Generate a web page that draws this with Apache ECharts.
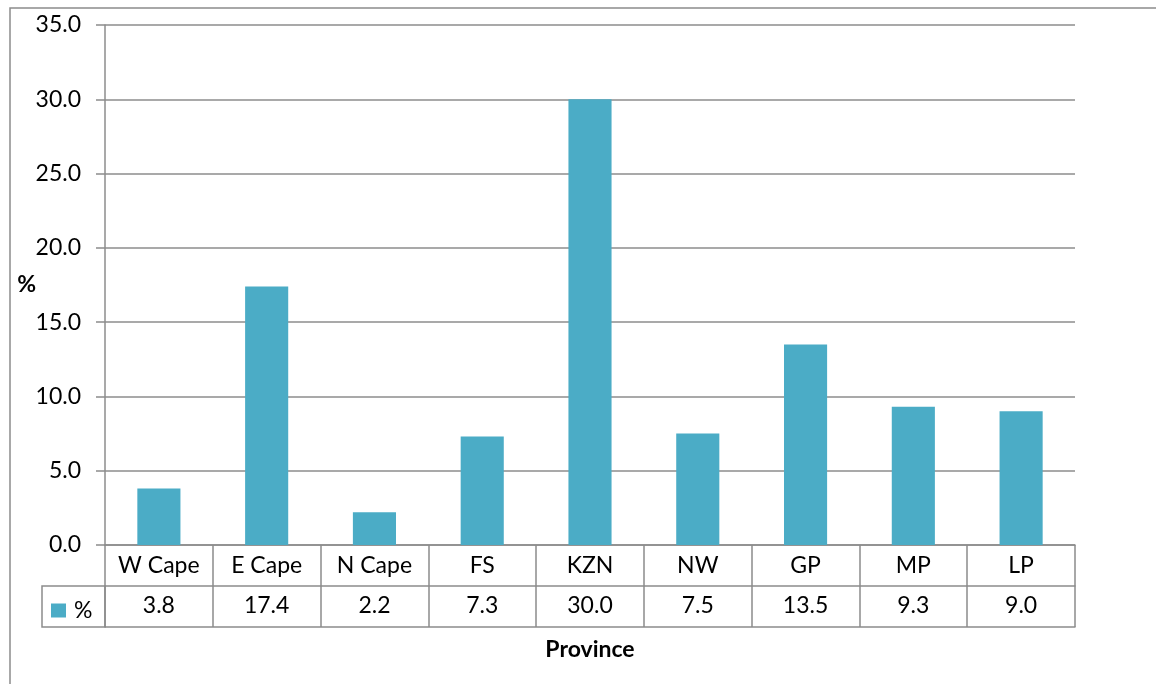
<!DOCTYPE html>
<html>
<head>
<meta charset="utf-8">
<script src="https://cdn.jsdelivr.net/npm/echarts@6/dist/echarts.min.js"></script>
<style>
  html, body { margin: 0; padding: 0; background: #fff; }
  #chart { width: 1156px; height: 684px; }
</style>
</head>
<body>
<div id="chart"></div>
<script>
var provinces = ['W Cape', 'E Cape', 'N Cape', 'FS', 'KZN', 'NW', 'GP', 'MP', 'LP'];
var percents = [3.8, 17.4, 2.2, 7.3, 30.0, 7.5, 13.5, 9.3, 9.0];
var yTicks = [0, 35, 5]; // min, max, step

var FONT = 'Lato';
var FS = 23;
var LINE = '#8c8c8c';
var BAR = '#4BACC6';

var chart = echarts.init(document.getElementById('chart'));

var tableValues = percents.map(function (v) { return v.toFixed(1); });

var option = {
    animation: false,
    textStyle: { fontFamily: FONT },
    grid: { left: 105, right: 81, top: 25, bottom: 139, outerBoundsMode: 'none' },
    legend: {
        left: 46, top: 594,
        icon: 'rect', itemWidth: 15, itemHeight: 14, itemGap: 4,
        data: ['%'],
        textStyle: { fontFamily: FONT, fontSize: FS, color: '#000', padding: [0, 0, 0, 3] }
    },
    xAxis: [{
        type: 'category',
        position: 'bottom',
        data: provinces,
        axisLine: { show: true, lineStyle: { color: LINE, width: 1.5 } },
        axisTick: { show: true, length: 82, lineStyle: { color: LINE, width: 1.5 } },
        axisLabel: { margin: 9, fontSize: FS, color: '#000', fontFamily: FONT }
    }, {
        type: 'category',
        position: 'bottom',
        data: tableValues,
        offset: 41,
        axisLine: { show: true, lineStyle: { color: LINE, width: 1.5 } },
        axisTick: { show: false },
        axisLabel: { margin: 8, fontSize: FS, color: '#000', fontFamily: FONT }
    }, {
        type: 'category',
        position: 'bottom',
        data: provinces,
        offset: 82,
        axisLine: { show: true, lineStyle: { color: LINE, width: 1.5 } },
        axisTick: { show: false },
        axisLabel: { show: false },
        name: 'Province',
        nameLocation: 'middle',
        nameGap: 11,
        nameTextStyle: { fontFamily: FONT, fontSize: FS, fontWeight: 'bold', color: '#000' }
    }],
    yAxis: {
        type: 'value',
        min: yTicks[0], max: yTicks[1], interval: yTicks[2],
        name: '%',
        nameLocation: 'middle',
        nameRotate: 0,
        nameGap: 69,
        nameMoveOverlap: false,
        nameTextStyle: { fontFamily: FONT, fontSize: FS, fontWeight: 'bold', color: '#000', align: 'right' },
        axisLine: { show: true, lineStyle: { color: LINE, width: 1.5 } },
        axisTick: { show: true, length: 9, lineStyle: { color: LINE, width: 1.5 } },
        axisLabel: {
            margin: 24, fontSize: FS, color: '#000', fontFamily: FONT,
            formatter: function (v) { return v.toFixed(1); }
        },
        splitLine: { show: true, lineStyle: { color: LINE, width: 1.5 } }
    },
    series: [{
        name: '%',
        type: 'bar',
        data: percents,
        barWidth: '40%',
        itemStyle: { color: BAR }
    }],
    graphic: [{
        type: 'rect',
        shape: { x: 10, y: 8, width: 1300, height: 800 },
        style: { fill: 'none', stroke: LINE, lineWidth: 1.5 },
        silent: true
    }, {
        type: 'rect',
        shape: { x: 42, y: 586, width: 63, height: 41 },
        style: { fill: 'none', stroke: LINE, lineWidth: 1.5 },
        silent: true
    }]
};

chart.setOption(option);
</script>
</body>
</html>
